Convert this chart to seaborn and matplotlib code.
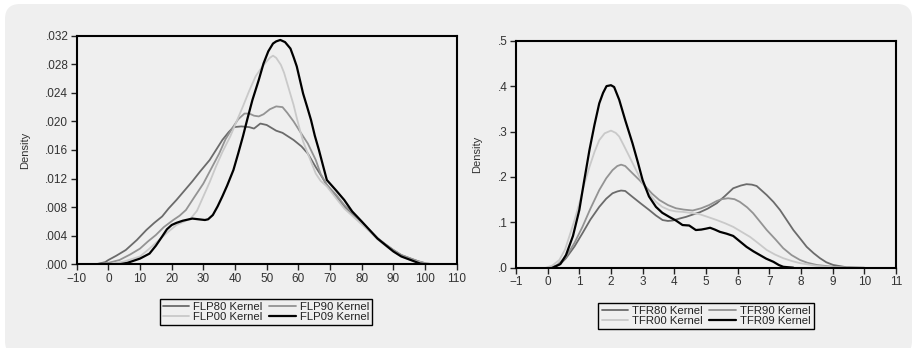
import matplotlib
matplotlib.use("Agg")
import matplotlib.pyplot as plt
from matplotlib.patches import FancyBboxPatch
from matplotlib.ticker import FuncFormatter, MultipleLocator
import seaborn as sns
import pandas as pd

# ---- data ----
flp80_x = [-4, -1, 0, 2.5, 5.5, 9, 12, 14.5, 17, 19, 21.5, 24, 26.5, 29, 32, 34, 36, 38, 39.5, 42, 44.5, 46, 48, 50,
           53, 55, 58.5, 61, 63, 65.5, 67.5, 69, 72, 74.5, 77, 80, 82.5, 85, 87.5, 90, 92.5, 95.5, 98, 100.5, 103]
flp80_y = [0, 0.0003, 0.0006, 0.0012, 0.002, 0.0034, 0.0048, 0.0058, 0.0067, 0.0078, 0.009, 0.0103, 0.0116, 0.013,
           0.0146, 0.016, 0.0174, 0.0185, 0.0192, 0.0193, 0.0192, 0.019, 0.0197, 0.0195, 0.0187, 0.0184, 0.0174, 0.0165,
           0.0155, 0.0136, 0.0122, 0.0111, 0.0095, 0.0081, 0.007, 0.0057, 0.0047, 0.0036, 0.0028, 0.002, 0.0013, 0.0008,
           0.0004, 0.0001, 0]
flp90_x = [-4, 0, 3.5, 7, 10, 12.5, 15, 17.5, 20.5, 22.5, 24.5, 27, 30, 32.5, 35, 37, 39.5, 41, 43, 44.5, 46, 47.5, 49,
           51, 53, 55, 56.5, 58.5, 60.5, 63, 65.5, 67, 69, 72, 74.5, 77, 80, 82.5, 85, 87.5, 90, 92.5, 95.5, 98, 100.5, 103]
flp90_y = [0, 0.0002, 0.0006, 0.0014, 0.0022, 0.0032, 0.0041, 0.0052, 0.0062, 0.0068, 0.0076, 0.0093, 0.0113, 0.0134,
           0.0155, 0.0175, 0.0193, 0.0203, 0.0211, 0.0211, 0.0208, 0.0207, 0.021, 0.0217, 0.0221, 0.022, 0.0212, 0.020,
           0.0186, 0.0169, 0.0146, 0.0127, 0.0111, 0.0097, 0.0083, 0.0072, 0.0058, 0.0048, 0.0037, 0.0028, 0.002, 0.0013,
           0.0008, 0.0004, 0.0001, 0]
flp00_x = [0, 5, 10, 13, 16, 18.5, 21.5, 24, 26, 28, 30, 32, 34, 36, 38.5, 40.5, 42.5, 44.5, 46.5, 48.5, 50, 51, 52, 53,
           54.5, 55.5, 56.5, 57.5, 58.5, 59.5, 60.5, 61.5, 63, 65.5, 67, 69, 72, 74.5, 77, 80, 82.5, 85, 87.5, 90, 92.5,
           95.5, 98, 100.5, 103]
flp00_y = [0, 0.0004, 0.0011, 0.0022, 0.0034, 0.0044, 0.0055, 0.006, 0.0064, 0.0075, 0.0095, 0.0115, 0.0137, 0.0157,
           0.0179, 0.020, 0.0221, 0.0243, 0.0263, 0.0276, 0.0284, 0.0289, 0.0292, 0.0289, 0.0279, 0.0268, 0.0253, 0.0238,
           0.0223, 0.0205, 0.0188, 0.0172, 0.0155, 0.0127, 0.0117, 0.0109, 0.0092, 0.0078, 0.0068, 0.0056, 0.0046, 0.0035,
           0.0026, 0.0018, 0.0011, 0.0006, 0.0003, 0.0001, 0]
flp09_x = [3.5, 6, 10, 13, 15, 17, 18.5, 20, 21.5, 23.5, 26.5, 28.5, 30.5, 31.5, 33, 34.5, 36, 37.5, 39.5, 41, 42.5, 44,
           45.5, 47.5, 49, 50.5, 52, 53, 54.3, 55.8, 57.5, 58.5, 59.5, 60.5, 61.5, 62.8, 64, 65.2, 66.5, 67.8, 69, 72,
           74.5, 77, 80, 82.5, 85, 87.5, 90, 92.5, 95.5, 98.5, 101]
flp09_y = [0, 0.0002, 0.0008, 0.0015, 0.0026, 0.0039, 0.0049, 0.0055, 0.0058, 0.0061, 0.0064, 0.0063, 0.0062, 0.0063,
           0.0069, 0.0081, 0.0095, 0.011, 0.0132, 0.0155, 0.0179, 0.0205, 0.023, 0.0258, 0.0281, 0.0298, 0.0309, 0.0312,
           0.0314, 0.0311, 0.0302, 0.029, 0.0277, 0.0258, 0.0239, 0.022, 0.0202, 0.018, 0.016, 0.0138, 0.0118, 0.0103,
           0.009, 0.0074, 0.006, 0.0048, 0.0036, 0.0027, 0.0018, 0.0011, 0.0006, 0.0001, 0]

tfr80_x = [0.16, 0.4, 0.58, 0.85, 1.1, 1.35, 1.63, 1.85, 2.05, 2.2, 2.32, 2.45, 2.68, 2.95, 3.21, 3.42, 3.63, 3.8, 3.95,
           4.15, 4.37, 4.58, 4.8, 5.05, 5.34, 5.6, 5.86, 6.1, 6.28, 6.45, 6.6, 6.92, 7.13, 7.34, 7.55, 7.76, 8.0, 8.18,
           8.4, 8.6, 8.8, 9.02, 9.44, 10.0]
tfr80_y = [0, 0.008, 0.021, 0.047, 0.076, 0.106, 0.134, 0.152, 0.164, 0.168, 0.17, 0.169, 0.156, 0.141, 0.127, 0.115,
           0.105, 0.103, 0.104, 0.108, 0.112, 0.117, 0.122, 0.13, 0.142, 0.158, 0.175, 0.181, 0.184, 0.183, 0.18, 0.16,
           0.145, 0.127, 0.105, 0.083, 0.062, 0.046, 0.032, 0.021, 0.012, 0.006, 0.001, 0]
tfr90_x = [0.05, 0.3, 0.58, 0.85, 1.1, 1.35, 1.63, 1.85, 2.05, 2.2, 2.32, 2.45, 2.68, 2.9, 3.1, 3.3, 3.53, 3.8, 4.05,
           4.3, 4.58, 4.85, 5.1, 5.34, 5.5, 5.7, 5.9, 6.07, 6.3, 6.49, 6.7, 6.92, 7.2, 7.44, 7.7, 7.97, 8.2, 8.5, 9.02, 9.5]
tfr90_y = [0, 0.006, 0.024, 0.055, 0.09, 0.13, 0.171, 0.197, 0.215, 0.224, 0.227, 0.224, 0.208, 0.193, 0.178, 0.163,
           0.149, 0.138, 0.131, 0.128, 0.126, 0.131, 0.138, 0.147, 0.151, 0.153, 0.151, 0.145, 0.133, 0.12, 0.102, 0.083,
           0.062, 0.043, 0.028, 0.017, 0.011, 0.006, 0.002, 0]
tfr00_x = [-0.05, 0.15, 0.37, 0.55, 0.68, 0.85, 1.0, 1.15, 1.32, 1.48, 1.63, 1.8, 2.0, 2.15, 2.26, 2.4, 2.58, 2.8, 3.0,
           3.2, 3.42, 3.62, 3.84, 4.05, 4.26, 4.5, 4.79, 5.05, 5.34, 5.6, 5.86, 6.1, 6.39, 6.65, 6.92, 7.18, 7.44, 7.7,
           7.97, 8.5, 9.02, 9.5]
tfr00_y = [0, 0.005, 0.017, 0.04, 0.068, 0.105, 0.142, 0.182, 0.222, 0.255, 0.281, 0.296, 0.302, 0.297, 0.289, 0.27,
           0.245, 0.214, 0.186, 0.163, 0.145, 0.134, 0.127, 0.124, 0.123, 0.121, 0.118, 0.112, 0.105, 0.098, 0.09, 0.08,
           0.068, 0.054, 0.039, 0.029, 0.021, 0.015, 0.01, 0.004, 0.001, 0]
tfr09_x = [0.16, 0.4, 0.58, 0.8, 1.0, 1.15, 1.32, 1.48, 1.63, 1.75, 1.86, 2.0, 2.1, 2.26, 2.45, 2.68, 2.85, 3.0, 3.2,
           3.42, 3.62, 3.84, 4.05, 4.26, 4.47, 4.68, 4.85, 5.0, 5.13, 5.28, 5.44, 5.65, 5.86, 6.07, 6.28, 6.5, 6.7, 6.9,
           7.13, 7.3, 7.44, 7.6, 7.76]
tfr09_y = [0, 0.008, 0.028, 0.07, 0.127, 0.19, 0.259, 0.315, 0.362, 0.385, 0.4, 0.402, 0.398, 0.37, 0.325, 0.274, 0.232,
           0.193, 0.157, 0.134, 0.121, 0.112, 0.104, 0.094, 0.093, 0.083, 0.084, 0.086, 0.088, 0.084, 0.079, 0.075, 0.07,
           0.058, 0.046, 0.036, 0.028, 0.02, 0.013, 0.006, 0.002, 0.001, 0]

flp_names = ["FLP80 Kernel", "FLP90 Kernel", "FLP00 Kernel", "FLP09 Kernel"]
tfr_names = ["TFR80 Kernel", "TFR90 Kernel", "TFR00 Kernel", "TFR09 Kernel"]
greys = ["#6b6b6b", "#939393", "#c9c9c9", "#000000"]
widths = [1.3, 1.3, 1.3, 1.6]


def long_df(names, xs, ys):
    parts = [pd.DataFrame({"x": x, "y": y, "series": n}) for n, x, y in zip(names, xs, ys)]
    return pd.concat(parts, ignore_index=True)


df_flp = long_df(flp_names, [flp80_x, flp90_x, flp00_x, flp09_x], [flp80_y, flp90_y, flp00_y, flp09_y])
df_tfr = long_df(tfr_names, [tfr80_x, tfr90_x, tfr00_x, tfr09_x], [tfr80_y, tfr90_y, tfr00_y, tfr09_y])

sns.set_style("ticks")
plt.rcParams["font.family"] = ["Liberation Sans", "DejaVu Sans"]
bg = "#efefef"

fig = plt.figure(figsize=(9.15, 3.48), dpi=100, facecolor="white")
panel = FancyBboxPatch((0.05, -0.08), 9.07, 3.52, boxstyle="round,pad=0,rounding_size=0.15",
                       transform=fig.dpi_scale_trans, facecolor=bg, edgecolor="none", zorder=-5)
fig.patches.append(panel)

ax1 = fig.add_axes([0.0838, 0.2405, 0.4153, 0.657])
ax2 = fig.add_axes([0.5639, 0.2307, 0.4153, 0.6523])


def draw(ax, df, names, xlim, xstep, ylim, ystep, fmt, label_x, leg_pos):
    sns.lineplot(data=df, x="x", y="y", hue="series", hue_order=names,
                 palette=dict(zip(names, greys)), estimator=None, legend=False, ax=ax)
    for ln, lw in zip(ax.lines, widths):
        ln.set_linewidth(lw)
    ax.set_facecolor(bg)
    ax.set_xlim(*xlim)
    ax.set_ylim(*ylim)
    ax.xaxis.set_major_locator(MultipleLocator(xstep))
    ax.yaxis.set_major_locator(MultipleLocator(ystep))
    ax.xaxis.set_major_formatter(FuncFormatter(lambda v, p: f"{v:.0f}".replace("-", "\u2212")))
    ax.yaxis.set_major_formatter(FuncFormatter(fmt))
    ax.tick_params(direction="out", length=4, width=1, color="#222222", labelcolor="#333333",
                   labelsize=8.5, pad=2)
    for s in ax.spines.values():
        s.set_visible(True)
        s.set_color("black")
        s.set_linewidth(1.5)
    ax.set_xlabel("")
    ax.set_ylabel("Density", fontsize=8, color="#333333")
    ax.yaxis.set_label_coords(label_x, 0.5)
    lines = ax.lines
    order = [0, 2, 1, 3]
    leg = fig.legend([lines[i] for i in order], [names[i] for i in order], ncol=2, loc="center",
                     bbox_to_anchor=leg_pos, fontsize=8.2, frameon=True, fancybox=False,
                     edgecolor="black", facecolor=bg, framealpha=1, handlelength=2.3,
                     handletextpad=0.35, columnspacing=0.6, labelspacing=0.0, borderpad=0.3)
    leg.get_frame().set_linewidth(1.0)
    for t in leg.get_texts():
        t.set_color("#222222")


draw(ax1, df_flp, flp_names, (-10, 110), 10, (0, 0.032), 0.004,
     lambda v, p: f"{v:.3f}".lstrip("0"), -0.123, (0.2907, 0.1034))
draw(ax2, df_tfr, tfr_names, (-1, 11), 1, (0, 0.5), 0.1,
     lambda v, p: f"{v:.1f}".lstrip("0"), -0.09, (0.7716, 0.092))

fig.savefig("out.png", dpi=100, facecolor="white")
